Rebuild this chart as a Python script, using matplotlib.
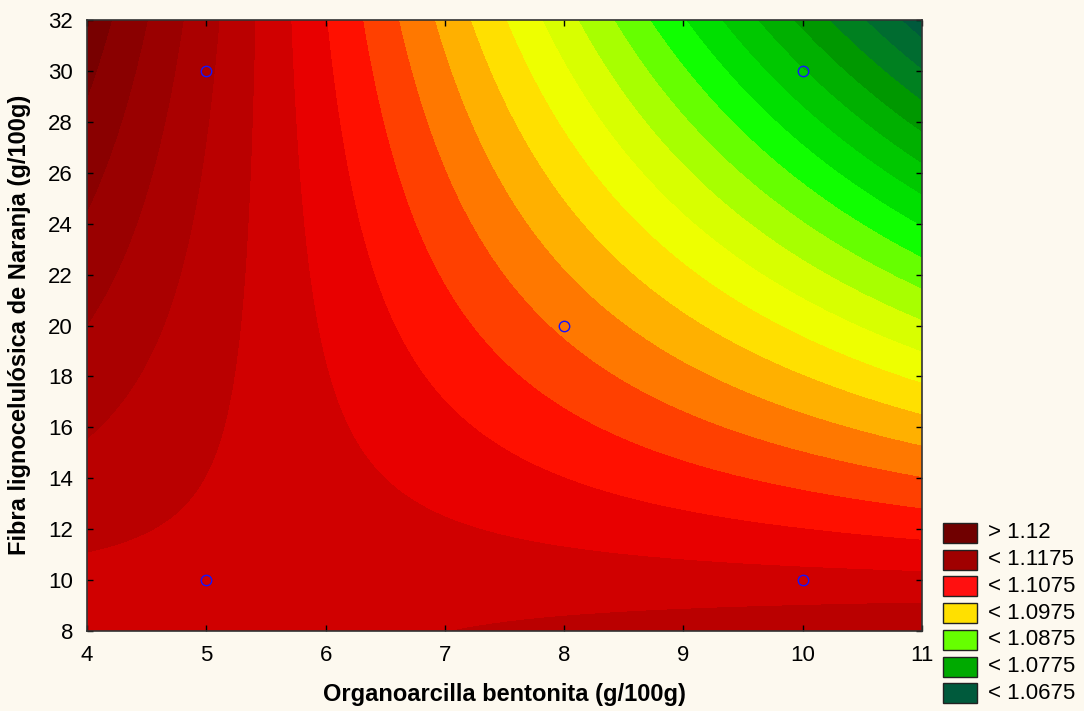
import numpy as np
import matplotlib
matplotlib.use('Agg')
import matplotlib.pyplot as plt
from matplotlib.patches import Rectangle

# fitted response surface  z = b0 + b1*x + b2*y + b12*x*y
# x = organoarcilla bentonita, y = fibra lignocelulosica (g/100g)
coef_names = ['b0', 'b1', 'b2', 'b12']
coef_values = [1.092176, 0.003527, 0.00204, -0.00037]

# experimental design points
design_x = [5, 5, 8, 10, 10]
design_y = [10, 30, 20, 10, 30]

# contour levels (step 0.0025) and band colours, low -> high
levels = np.round(np.arange(1.0625, 1.12501, 0.0025), 4)
band_colors = ['#004A40', '#005A3C', '#006C30', '#008020', '#009800',
               '#00B000', '#00C800', '#00E000', '#10FF00', '#66FF00',
               '#A8FF00', '#D8FF00', '#EEFF00', '#FFE000', '#FFB000',
               '#FF7800', '#FF4000', '#FF1000', '#E80000', '#D00000',
               '#BA0000', '#AA0000', '#9A0000', '#8A0000', '#780000']

legend_labels = ['> 1.12', '< 1.1175', '< 1.1075', '< 1.0975',
                 '< 1.0875', '< 1.0775', '< 1.0675']
legend_colors = ['#700000', '#A00000', '#FF1010', '#FFE000',
                 '#66FF00', '#00AA00', '#005A3C']

BG = '#FDF9EF'
W, H = 1084, 711
plt.rcParams['font.family'] = ['Liberation Sans', 'DejaVu Sans']

fig = plt.figure(figsize=(W / 100, H / 100), dpi=100, facecolor=BG)
ax = fig.add_axes([87 / W, 1 - 631 / H, 835 / W, 611 / H])

xs = np.linspace(4, 11, 600)
ys = np.linspace(8, 32, 600)
X, Y = np.meshgrid(xs, ys)
b0, b1, b2, b12 = coef_values
Z = b0 + b1 * X + b2 * Y + b12 * X * Y

ax.contourf(X, Y, Z, levels=levels, colors=band_colors, antialiased=False)
ax.plot(design_x, design_y, 'o', mfc='none', mec='#1414FF', ms=7.5, mew=1.0)

ax.set_xlim(4, 11)
ax.set_ylim(8, 32)
ax.set_xticks(range(4, 12))
ax.set_yticks(range(8, 33, 2))
ax.tick_params(direction='in', top=True, right=True, length=4, width=1,
               labelsize=16, pad=10, colors='black')
for s in ax.spines.values():
    s.set_color('#333333')
    s.set_linewidth(1.2)

fig.text(504 / W, 1 - 694 / H, 'Organoarcilla bentonita (g/100g)',
         ha='center', va='center', fontsize=17, fontweight='bold')
fig.text(20 / W, 1 - 325 / H, 'Fibra lignocelulósica de Naranja (g/100g)',
         ha='center', va='center', rotation=90, fontsize=17, fontweight='bold')

# legend
for i, (lab, col) in enumerate(zip(legend_labels, legend_colors)):
    top = 523 + 26.7 * i
    fig.add_artist(Rectangle((943 / W, 1 - (top + 20) / H), 34 / W, 20 / H,
                             transform=fig.transFigure, facecolor=col,
                             edgecolor='#222222', linewidth=1))
    fig.text(988 / W, 1 - (top + 10) / H, lab, ha='left', va='center',
             fontsize=16)

fig.savefig('out.png', dpi=100, facecolor=BG)
